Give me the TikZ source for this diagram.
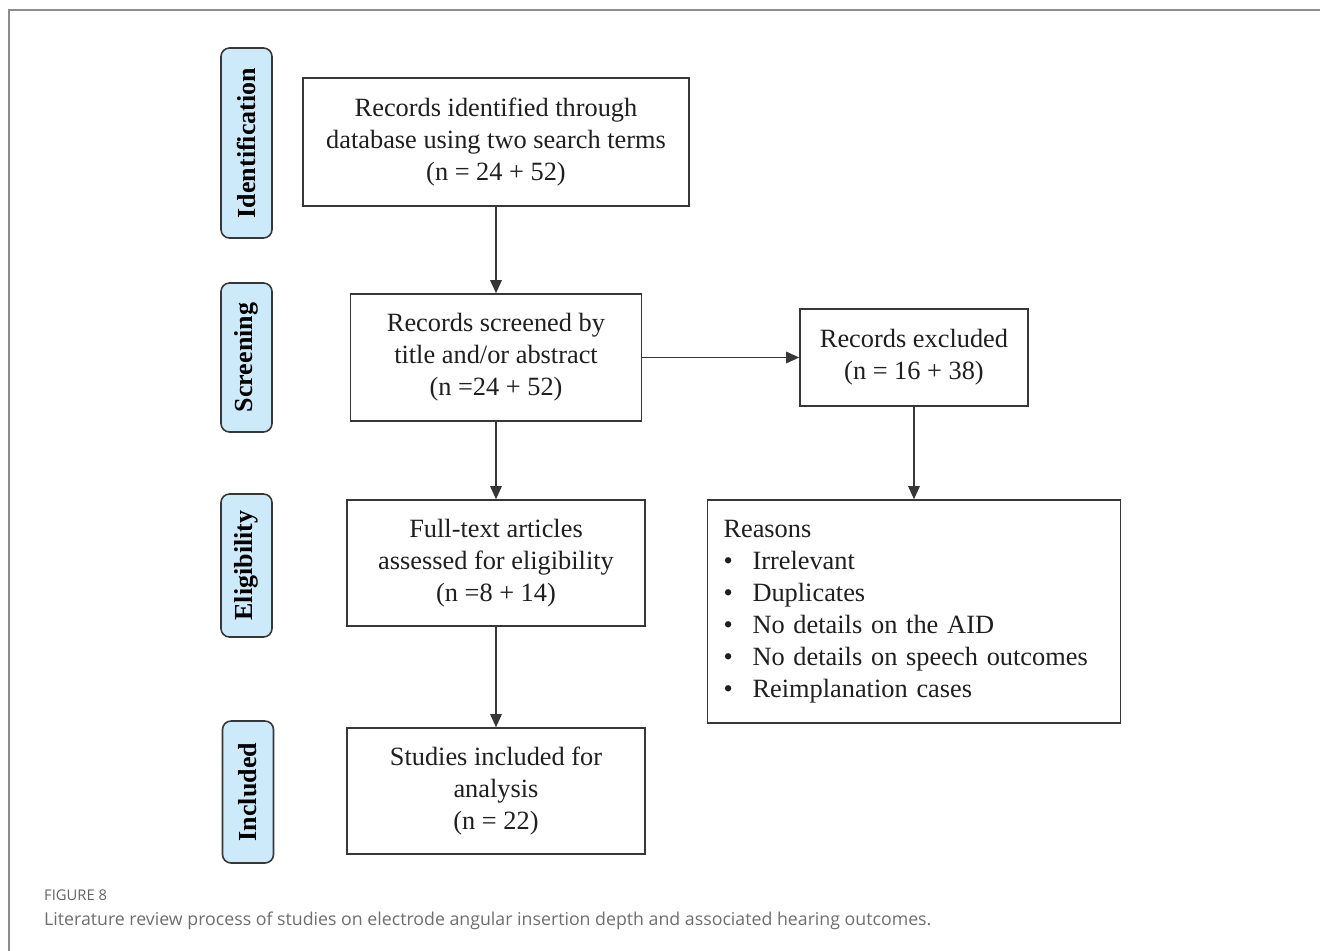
\documentclass[tikz,border=0pt]{standalone}
\usepackage{fontspec}
\setmainfont{Liberation Serif}
\newfontfamily\capfont{Open Sans}
\usepackage{xcolor}
\usepackage{tikz}
\usetikzlibrary{arrows.meta}
\usetikzlibrary{positioning}
\definecolor{tabblue}{RGB}{205,234,250}
\definecolor{lineg}{RGB}{55,55,55}
\definecolor{capg}{RGB}{110,110,110}
\tikzset{
    boxnode/.style = {rectangle, draw=lineg, line width=0.9pt, align=center, fill=white, text=black!88, font=\fontsize{15}{18.2}\selectfont, inner sep=0pt},
    tabnode/.style = {rectangle, rounded corners=0.17cm, draw=lineg, line width=0.9pt, fill=tabblue, rotate=90, minimum height=1.02cm, font=\bfseries\fontsize{14.8}{16}\selectfont, inner sep=0pt},
}
\begin{document}
\begin{tikzpicture}[
	thick
]
\tikzset{
    edger/.style = {-{Triangle[length=0.26cm,width=0.23cm]}, line width=0.8pt, draw=lineg},
}
\useasboundingbox (0,0) rectangle (26.4,-19.02);
\draw[line width=0.6pt, draw=black!45] (0.18,-19.02) -- (0.18,-0.2) -- (26.4,-0.2);

\node[tabnode, minimum width=3.80cm] at (4.93,-2.86) (tid) {Identification};
\node[tabnode, minimum width=2.98cm] at (4.93,-7.15) (tsc) {Screening};
\node[tabnode, minimum width=2.86cm] at (4.93,-11.31) (tel) {Eligibility};
\node[tabnode, minimum width=2.84cm] at (4.96,-15.84) (tin) {Included};

\node[boxnode, minimum width=7.72cm, minimum height=2.56cm] at (9.92,-2.84) (ident) {Records identified through\\database using two search terms\\(n = 24 + 52)};
\node[boxnode, minimum width=5.82cm, minimum height=2.54cm] at (9.92,-7.15) (screen) {Records screened by\\title and/or abstract\\(n =24 + 52)};
\node[boxnode, minimum width=4.56cm, minimum height=1.94cm] at (18.28,-7.15) (excl) {Records excluded\\(n = 16 + 38)};
\node[boxnode, minimum width=5.96cm, minimum height=2.52cm] at (9.92,-11.26) (full) {Full-text articles\\assessed for eligibility\\(n =8 + 14)};
\node[boxnode, minimum width=8.26cm, minimum height=4.46cm, text width=7.62cm, align=left] at (18.28,-12.23) (reasons) {Reasons\\\makebox[0.58cm][l]{•}Irrelevant\\\makebox[0.58cm][l]{•}Duplicates\\\makebox[0.58cm][l]{•}No details on the AID\\\makebox[0.58cm][l]{•}No details on speech outcomes\\\makebox[0.58cm][l]{•}Reimplanation cases};
\node[boxnode, minimum width=5.96cm, minimum height=2.52cm] at (9.92,-15.82) (incl) {Studies included for\\analysis\\(n = 22)};

\draw[edger] (ident) to (screen);
\draw[edger] (screen) to (full);
\draw[edger] (full) to (incl);
\draw[edger] (screen) to (excl);
\draw[edger] (excl) to (reasons);

\node[anchor=base west, inner sep=0pt, text=capg!90!black, font=\capfont\fontsize{8.4}{10}\selectfont] at (0.87,-18.01) (fig) {FIGURE 8};
\node[anchor=base west, inner sep=0pt, text=capg, font=\capfont\fontsize{10.1}{12}\selectfont] at (0.87,-18.51) (cap) {Literature review process of studies on electrode angular insertion depth and associated hearing outcomes.};

\end{tikzpicture}
\end{document}
